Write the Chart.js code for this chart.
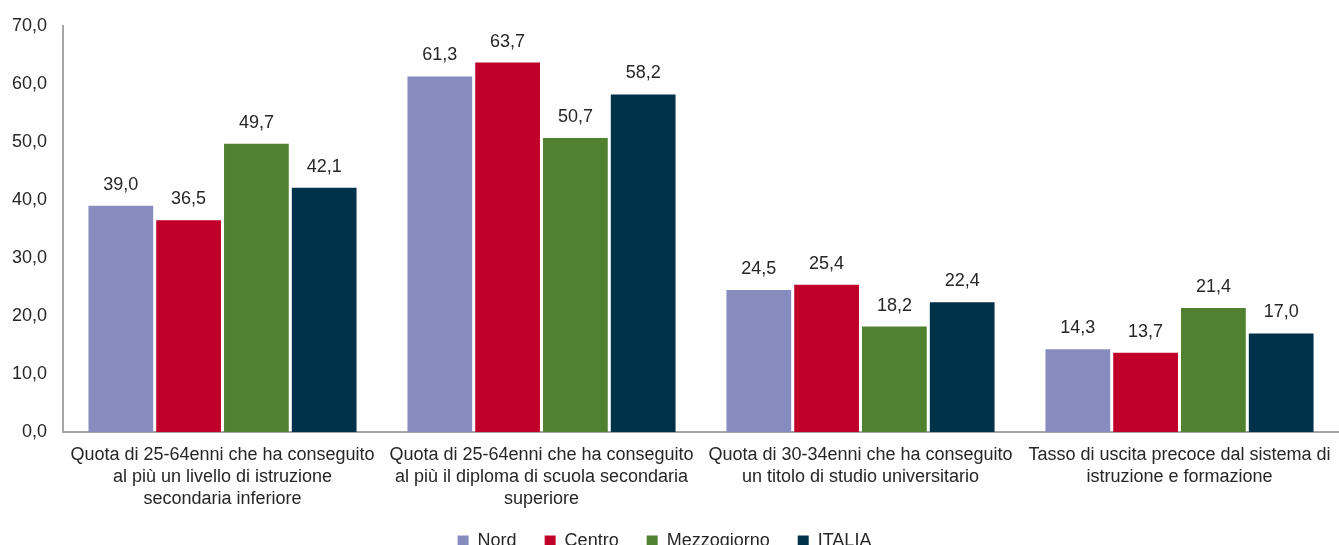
<!DOCTYPE html>
<html>
<head>
<meta charset="utf-8">
<script src="https://cdn.jsdelivr.net/npm/chart.js@4.4.0/dist/chart.umd.min.js"></script>
<style>
  html, body { margin: 0; padding: 0; background: #fff; overflow: hidden; }
  #wrap { width: 1339px; height: 560px; position: relative; }
</style>
</head>
<body>
<div id="wrap"><canvas id="grafico"></canvas></div>
<script>
const categorie = [
  ['Quota di 25-64enni che ha conseguito', 'al più un livello di istruzione', 'secondaria inferiore'],
  ['Quota di 25-64enni che ha conseguito', 'al più il diploma di scuola secondaria', 'superiore'],
  ['Quota di 30-34enni che ha conseguito', 'un titolo di studio universitario'],
  ['Tasso di uscita precoce dal sistema di', 'istruzione e formazione']
];
const nord = [39.0, 61.3, 24.5, 14.3];
const centro = [36.5, 63.7, 25.4, 13.7];
const mezzogiorno = [49.7, 50.7, 18.2, 21.4];
const italia = [42.1, 58.2, 22.4, 17.0];

const virgola = v => v.toFixed(1).replace('.', ',');
const FONT = '"Liberation Sans", Arial, sans-serif';

// etichette sopra le barre
const etichette = {
  id: 'etichette',
  afterDatasetsDraw(chart) {
    const ctx = chart.ctx;
    ctx.save();
    ctx.font = '18px ' + FONT;
    ctx.fillStyle = '#262626';
    ctx.textAlign = 'center';
    ctx.textBaseline = 'alphabetic';
    chart.data.datasets.forEach((ds, i) => {
      chart.getDatasetMeta(i).data.forEach((bar, j) => {
        ctx.fillText(virgola(ds.data[j]), bar.x, bar.y - 16);
      });
    });
    ctx.restore();
  }
};

const ctx = document.getElementById('grafico').getContext('2d');
new Chart(ctx, {
  type: 'bar',
  data: {
    labels: categorie,
    datasets: [
      { label: 'Nord', data: nord, backgroundColor: '#878CBF' },
      { label: 'Centro', data: centro, backgroundColor: '#C00029' },
      { label: 'Mezzogiorno', data: mezzogiorno, backgroundColor: '#4F8130' },
      { label: 'ITALIA', data: italia, backgroundColor: '#00314A' }
    ]
  },
  options: {
    responsive: true,
    maintainAspectRatio: false,
    animation: false,
    layout: { padding: { top: 26, right: 0, left: 0, bottom: 0 } },
    datasets: { bar: { categoryPercentage: 0.85, barPercentage: 0.955 } },
    scales: {
      x: {
        grid: { display: false },
        border: { color: '#A6A6A6', width: 2 },
        ticks: {
          color: '#262626',
          font: { family: FONT, size: 18, lineHeight: 1.22 },
          maxRotation: 0,
          autoSkip: false,
          padding: 4
        }
      },
      y: {
        min: 0,
        max: 70,
        grid: { display: false },
        border: { color: '#A6A6A6', width: 2 },
        afterFit(scale) { scale.width = 63; },
        ticks: {
          stepSize: 10,
          color: '#262626',
          padding: 8,
          font: { family: FONT, size: 18 },
          callback: v => virgola(v)
        }
      }
    },
    plugins: {
      tooltip: { enabled: false },
      legend: {
        position: 'bottom',
        labels: {
          boxWidth: 11,
          boxHeight: 11,
          padding: 18,
          color: '#262626',
          font: { family: FONT, size: 18 },
          generateLabels(chart) {
            const base = Chart.defaults.plugins.legend.labels.generateLabels(chart);
            base.forEach(l => { l.text = l.text + '  '; });
            return base;
          }
        }
      }
    }
  },
  plugins: [etichette]
});
</script>
</body>
</html>
